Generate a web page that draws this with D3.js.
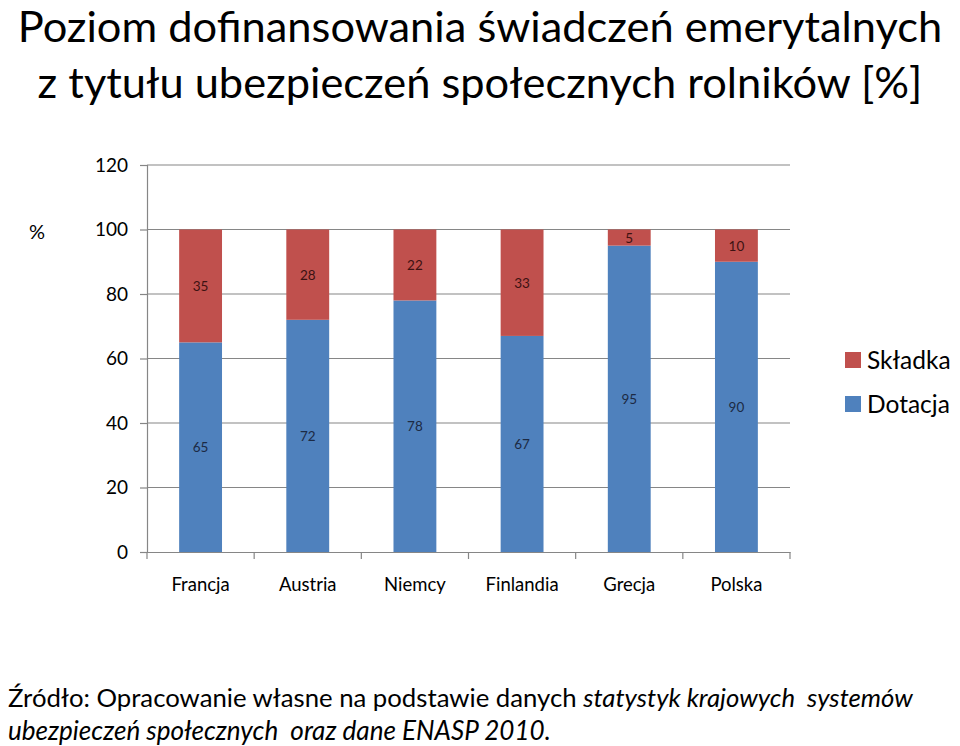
<!DOCTYPE html>
<html><head><meta charset="utf-8">
<script src="https://cdn.jsdelivr.net/npm/d3@7"></script>
<style>body{margin:0;background:#fff}svg{display:block}text{font-family:Lato,"Open Sans",sans-serif;white-space:pre}</style>
</head><body>
<script>
const categories = ["Francja","Austria","Niemcy","Finlandia","Grecja","Polska"];
const dotacja = [65,72,78,67,95,90];
const skladka = [35,28,22,33,5,10];
const yTicks = [0,20,40,60,80,100,120];
const seriesNames = ["Składka","Dotacja"];
const titleLines = ["Poziom dofinansowania świadczeń emerytalnych","z tytułu ubezpieczeń społecznych rolników [%]"];

const W=960,H=746;
const svg=d3.select("body").append("svg").attr("width",W).attr("height",H);
const colors={Dotacja:"#4F81BD",Składka:"#C0504D"};
const labelColors={Dotacja:"#1c2a44",Składka:"#3d1212"};

function fit(sel,target){
  const n=sel.node(); const fs=parseFloat(sel.attr("font-size"));
  const w=n.getComputedTextLength(); sel.attr("font-size",fs*target/w);
}

// title
const t1=svg.append("text").attr("x",480).attr("y",42).attr("text-anchor","middle").attr("font-size",40).attr("fill","#000").text(titleLines[0]);
fit(t1,925);
const t2=svg.append("text").attr("x",480).attr("y",98).attr("text-anchor","middle").attr("font-size",40).attr("fill","#000").text(titleLines[1]);
fit(t2,885);

const x=d3.scaleBand().domain(categories).range([147,790]).paddingInner(0.6).paddingOuter(0.3);
const y=d3.scaleLinear().domain([0,120]).range([552,165]);

// gridlines
svg.append("g").selectAll("line").data(yTicks.filter(d=>d>0)).join("line")
 .attr("x1",147).attr("x2",790).attr("y1",d=>y(d)).attr("y2",d=>y(d))
 .attr("stroke","#868686").attr("stroke-width",1.2);

// y axis
const ya=svg.append("g").attr("transform","translate(147,0)").call(d3.axisLeft(y).tickValues(yTicks).tickSize(7).tickPadding(12));
ya.select(".domain").attr("stroke","#868686").attr("stroke-width",1.2);
ya.selectAll(".tick line").attr("stroke","#868686").attr("stroke-width",1.2);
ya.selectAll(".tick text").attr("font-family","Lato,sans-serif").attr("font-size",19).attr("fill","#000");

// x axis
const xa=svg.append("g").attr("transform","translate(0,552)").call(d3.axisBottom(x).tickSize(0).tickPadding(26));
xa.select(".domain").attr("stroke","#868686").attr("stroke-width",1.2);
xa.selectAll(".tick text").attr("font-family","Lato,sans-serif").attr("font-size",18.5).attr("fill","#000");
svg.append("g").selectAll("line").data(d3.range(categories.length+1)).join("line")
 .attr("x1",i=>147+i*(643/categories.length)).attr("x2",i=>147+i*(643/categories.length))
 .attr("y1",552).attr("y2",559).attr("stroke","#868686").attr("stroke-width",1.2);

// stacked bars
const rows=categories.map((c,i)=>({cat:c,Dotacja:dotacja[i],Składka:skladka[i]}));
const stack=d3.stack().keys(["Dotacja","Składka"])(rows);
stack.forEach(s=>{
  const g=svg.append("g");
  g.selectAll("rect").data(s).join("rect")
   .attr("x",d=>x(d.data.cat)).attr("width",x.bandwidth())
   .attr("y",d=>y(d[1])).attr("height",d=>y(d[0])-y(d[1]))
   .attr("fill",colors[s.key]);
  g.selectAll("text").data(s).join("text")
   .attr("x",d=>x(d.data.cat)+x.bandwidth()/2).attr("y",d=>(y(d[0])+y(d[1]))/2+5)
   .attr("text-anchor","middle").attr("font-size",13.5).attr("fill",labelColors[s.key])
   .text(d=>d.data[s.key]);
});

// % label
svg.append("text").attr("x",29).attr("y",239).attr("font-size",20).attr("fill","#000").text("%");

// legend
const lg=svg.append("g");
seriesNames.forEach((n,i)=>{
  lg.append("rect").attr("x",845).attr("y",352+i*44).attr("width",16).attr("height",16).attr("fill",colors[n]);
  lg.append("text").attr("x",867).attr("y",369+i*44).attr("font-size",24.5).attr("fill","#000").text(n);
});

// footnote
const f1=svg.append("text").attr("x",8).attr("y",707).attr("font-size",22).attr("fill","#000");
f1.append("tspan").text("Źródło: Opracowanie własne na podstawie danych ");
f1.append("tspan").attr("font-style","italic").text("statystyk krajowych  systemów");
fit(f1,905);
const f2=svg.append("text").attr("x",8).attr("y",740).attr("font-size",22).attr("fill","#000").attr("font-style","italic");
f2.append("tspan").text("ubezpieczeń społecznych  oraz dane ENASP 2010.");
fit(f2,543);
</script>
</body></html>
